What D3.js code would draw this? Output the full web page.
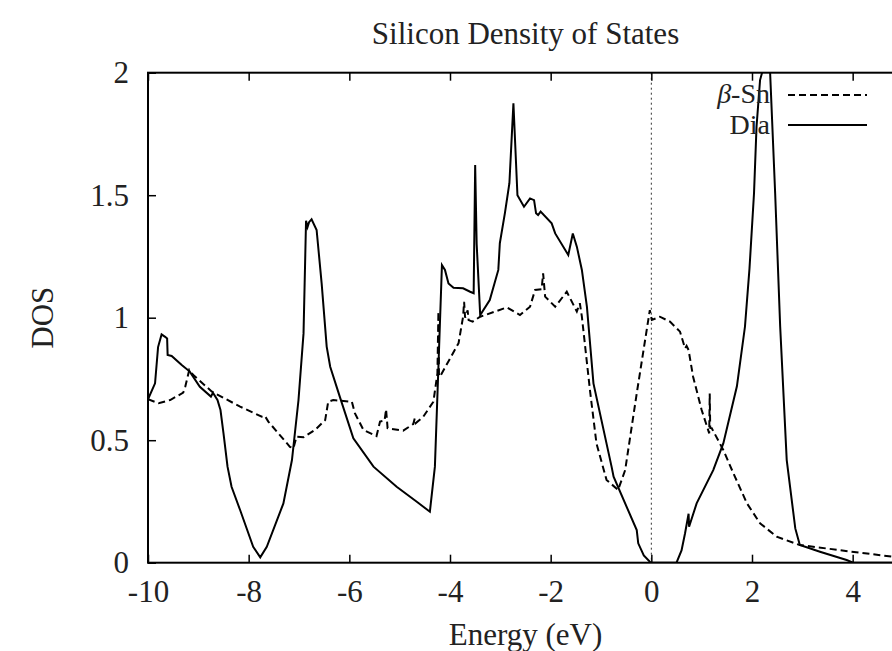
<!DOCTYPE html>
<html>
<head>
<meta charset="utf-8">
<script src="https://cdn.jsdelivr.net/npm/d3@7"></script>
<style>
  body { margin: 0; background: #fff; }
  svg { display: block; }
  text { font-family: "Liberation Serif", "Times New Roman", serif; fill: #222; }
</style>
</head>
<body>
<svg></svg>
<script>
// Dia (solid) curve
var diaEnergy = [-10.00, -9.86, -9.80, -9.73, -9.66, -9.62, -9.61, -9.53, -9.33, -9.17, -8.97, -8.75, -8.71,
  -8.62, -8.56, -8.50, -8.42, -8.34, -8.17, -7.91, -7.77, -7.64, -7.31, -7.14, -7.01, -6.91, -6.86,
  -6.83, -6.80, -6.75, -6.65, -6.55, -6.45, -6.38, -6.19, -5.92, -5.52, -5.06, -4.66, -4.40, -4.30,
  -4.23, -4.16, -4.10, -4.03, -3.93, -3.74, -3.60, -3.53, -3.50, -3.47, -3.40, -3.21, -3.04, -3.01,
  -2.91, -2.82, -2.74, -2.66, -2.53, -2.41, -2.33, -2.29, -2.25, -2.20, -1.98, -1.91, -1.65, -1.56,
  -1.48, -1.38, -1.28, -1.15, -0.79, -0.75, -0.29, -0.26, -0.15, -0.03, 0.00, 0.50, 0.60, 0.67,
  0.74, 0.75, 0.90, 1.23, 1.43, 1.70, 1.86, 1.95, 2.04, 2.09, 2.16, 2.24, 2.30, 2.36, 2.46, 2.56,
  2.69, 2.86, 2.95, 3.35, 3.88, 4.01, 5.00];
var diaDos = [0.667, 0.732, 0.88, 0.932, 0.922, 0.915, 0.848, 0.844, 0.807, 0.78, 0.718, 0.678, 0.694,
  0.664, 0.623, 0.528, 0.392, 0.31, 0.215, 0.065, 0.022, 0.065, 0.242, 0.419, 0.664, 0.936, 1.396,
  1.37, 1.39, 1.402, 1.358, 1.14, 0.882, 0.80, 0.678, 0.508, 0.392, 0.31, 0.249, 0.208, 0.392,
  0.8, 1.215, 1.195, 1.14, 1.122, 1.12, 1.106, 1.10, 1.623, 1.3, 1.011, 1.072, 1.195, 1.304,
  1.426, 1.549, 1.875, 1.5, 1.453, 1.487, 1.48, 1.426, 1.419, 1.433, 1.385, 1.344, 1.256, 1.344,
  1.29, 1.195, 1.045, 0.732, 0.392, 0.351, 0.133, 0.079, 0.03, 0.004, 0, 0, 0.05, 0.12,
  0.2, 0.147, 0.242, 0.378, 0.487, 0.72, 0.963, 1.2, 1.508, 1.78, 1.97, 2.03, 2.05, 2.0, 1.508, 0.963,
  0.419, 0.14, 0.072, 0.045, 0.011, 0, 0];

// beta-Sn (dashed) curve
var snEnergy = [-10.00, -9.79, -9.56, -9.30, -9.26, -9.18, -9.10, -8.73, -8.17, -7.74, -7.68, -7.61,
  -7.18, -7.11, -7.05, -6.91, -6.68, -6.48, -6.42, -6.32, -5.95, -5.89, -5.72, -5.46, -5.39, -5.30,
  -5.27, -5.24, -4.93, -4.73, -4.70, -4.68, -4.53, -4.33, -4.25, -4.23, -4.22, -4.20, -3.83, -3.74,
  -3.72, -3.70, -3.65, -3.63, -3.55, -3.40, -2.87, -2.61, -2.41, -2.31, -2.18, -2.15, -2.11, -1.91,
  -1.68, -1.48, -1.42, -1.38, -1.22, -1.09, -0.89, -0.66, -0.52, -0.29, -0.03, 0.01, 0.17, 0.37,
  0.57, 0.67, 0.70, 0.74, 0.83, 1.00, 1.15, 1.16, 1.17, 1.20, 1.43, 1.63, 1.90, 2.16, 2.49, 2.95,
  3.98, 4.77, 5.00];
var snDos = [0.667, 0.651, 0.664, 0.694, 0.718, 0.787, 0.766, 0.698, 0.637, 0.596, 0.60, 0.576,
  0.473, 0.467, 0.514, 0.512, 0.542, 0.582, 0.657, 0.664, 0.657, 0.61, 0.542, 0.517, 0.576, 0.58,
  0.626, 0.549, 0.539, 0.566, 0.589, 0.57, 0.596, 0.657, 0.773, 1.025, 0.77, 0.759, 0.896, 1.004,
  1.065, 1.0, 1.03, 0.99, 0.984, 1.004, 1.042, 1.011, 1.045, 1.113, 1.116, 1.181, 1.086, 1.045,
  1.106, 1.025, 1.059, 1.004, 0.705, 0.487, 0.338, 0.297, 0.378, 0.691, 1.031, 0.991, 1.004, 0.984,
  0.943, 0.875, 0.885, 0.868, 0.759, 0.623, 0.528, 0.691, 0.55, 0.549, 0.46, 0.365, 0.242, 0.161, 0.106, 0.072,
  0.045, 0.025, 0.02];

var xTicks = [-10, -8, -6, -4, -2, 0, 2, 4];
var yTicks = [0, 0.5, 1, 1.5, 2];

var W = 892, H = 651;
var margin = {top: 72.7, left: 148};
var plotW = 755, plotH = 490;

var svg = d3.select("svg").attr("width", W).attr("height", H);

var x = d3.scaleLinear().domain([-10, 5]).range([0, plotW]);
var y = d3.scaleLinear().domain([0, 2]).range([plotH, 0]);

var g = svg.append("g")
    .attr("transform", "translate(" + margin.left + "," + margin.top + ")");

g.append("clipPath").attr("id", "clip")
  .append("rect").attr("width", plotW).attr("height", plotH);

// zero energy line
g.append("line")
    .attr("x1", x(0)).attr("x2", x(0))
    .attr("y1", 0).attr("y2", plotH)
    .attr("stroke", "#333").attr("stroke-width", 1)
    .attr("stroke-dasharray", "2,3");

var line = d3.line()
    .x(function(d) { return x(d[0]); })
    .y(function(d) { return y(d[1]); });

var snData = snEnergy.map(function(e, i) { return [e, snDos[i]]; });
var diaData = diaEnergy.map(function(e, i) { return [e, diaDos[i]]; });

g.append("path")
    .datum(snData)
    .attr("clip-path", "url(#clip)")
    .attr("fill", "none")
    .attr("stroke", "#000")
    .attr("stroke-width", 2)
    .attr("stroke-dasharray", "7,4")
    .attr("d", line);

g.append("path")
    .datum(diaData)
    .attr("clip-path", "url(#clip)")
    .attr("fill", "none")
    .attr("stroke", "#000")
    .attr("stroke-width", 2)
    .attr("d", line);

// axes
var xAxis = d3.axisBottom(x).tickValues(xTicks).tickSizeInner(-8).tickSizeOuter(0).tickPadding(17)
    .tickFormat(function(d) { return d; });
var xAxisTop = d3.axisTop(x).tickValues(xTicks).tickSizeInner(-8).tickSizeOuter(0).tickFormat("");
var yAxis = d3.axisLeft(y).tickValues(yTicks).tickSizeInner(-8).tickSizeOuter(0).tickPadding(19)
    .tickFormat(function(d) { return d; });

function styleAxis(sel) {
  sel.select(".domain").remove();
  sel.selectAll(".tick line").attr("stroke", "#000").attr("stroke-width", 1.5);
  sel.selectAll(".tick text").style("font-size", "31px")
     .style("font-family", "'Liberation Serif', serif").attr("fill", "#222");
}

g.append("g").attr("transform", "translate(0," + plotH + ")").call(xAxis).call(styleAxis);
g.append("g").call(xAxisTop).call(styleAxis);
g.append("g").call(yAxis).call(styleAxis);

// border
g.append("rect")
    .attr("width", plotW).attr("height", plotH)
    .attr("fill", "none").attr("stroke", "#000").attr("stroke-width", 2);

// titles
svg.append("text")
    .attr("x", margin.left + plotW / 2).attr("y", 44)
    .attr("text-anchor", "middle").style("font-size", "31px")
    .text("Silicon Density of States");

svg.append("text")
    .attr("x", margin.left + plotW / 2).attr("y", 645)
    .attr("text-anchor", "middle").style("font-size", "31px")
    .text("Energy (eV)");

svg.append("text")
    .attr("transform", "translate(53," + (margin.top + plotH / 2) + ") rotate(-90)")
    .attr("text-anchor", "middle").style("font-size", "31px")
    .text("DOS");

// legend
var legend = svg.append("g");
var t1 = legend.append("text").attr("x", 770).attr("y", 103)
    .attr("text-anchor", "end").style("font-size", "28px");
t1.append("tspan").style("font-style", "italic").text("β");
t1.append("tspan").text("-Sn");
legend.append("line").attr("x1", 788).attr("x2", 867).attr("y1", 95).attr("y2", 95)
    .attr("stroke", "#000").attr("stroke-width", 2).attr("stroke-dasharray", "7,4");

legend.append("text").attr("x", 770).attr("y", 134)
    .attr("text-anchor", "end").style("font-size", "28px").text("Dia");
legend.append("line").attr("x1", 788).attr("x2", 867).attr("y1", 125).attr("y2", 125)
    .attr("stroke", "#000").attr("stroke-width", 2);
</script>
</body>
</html>
